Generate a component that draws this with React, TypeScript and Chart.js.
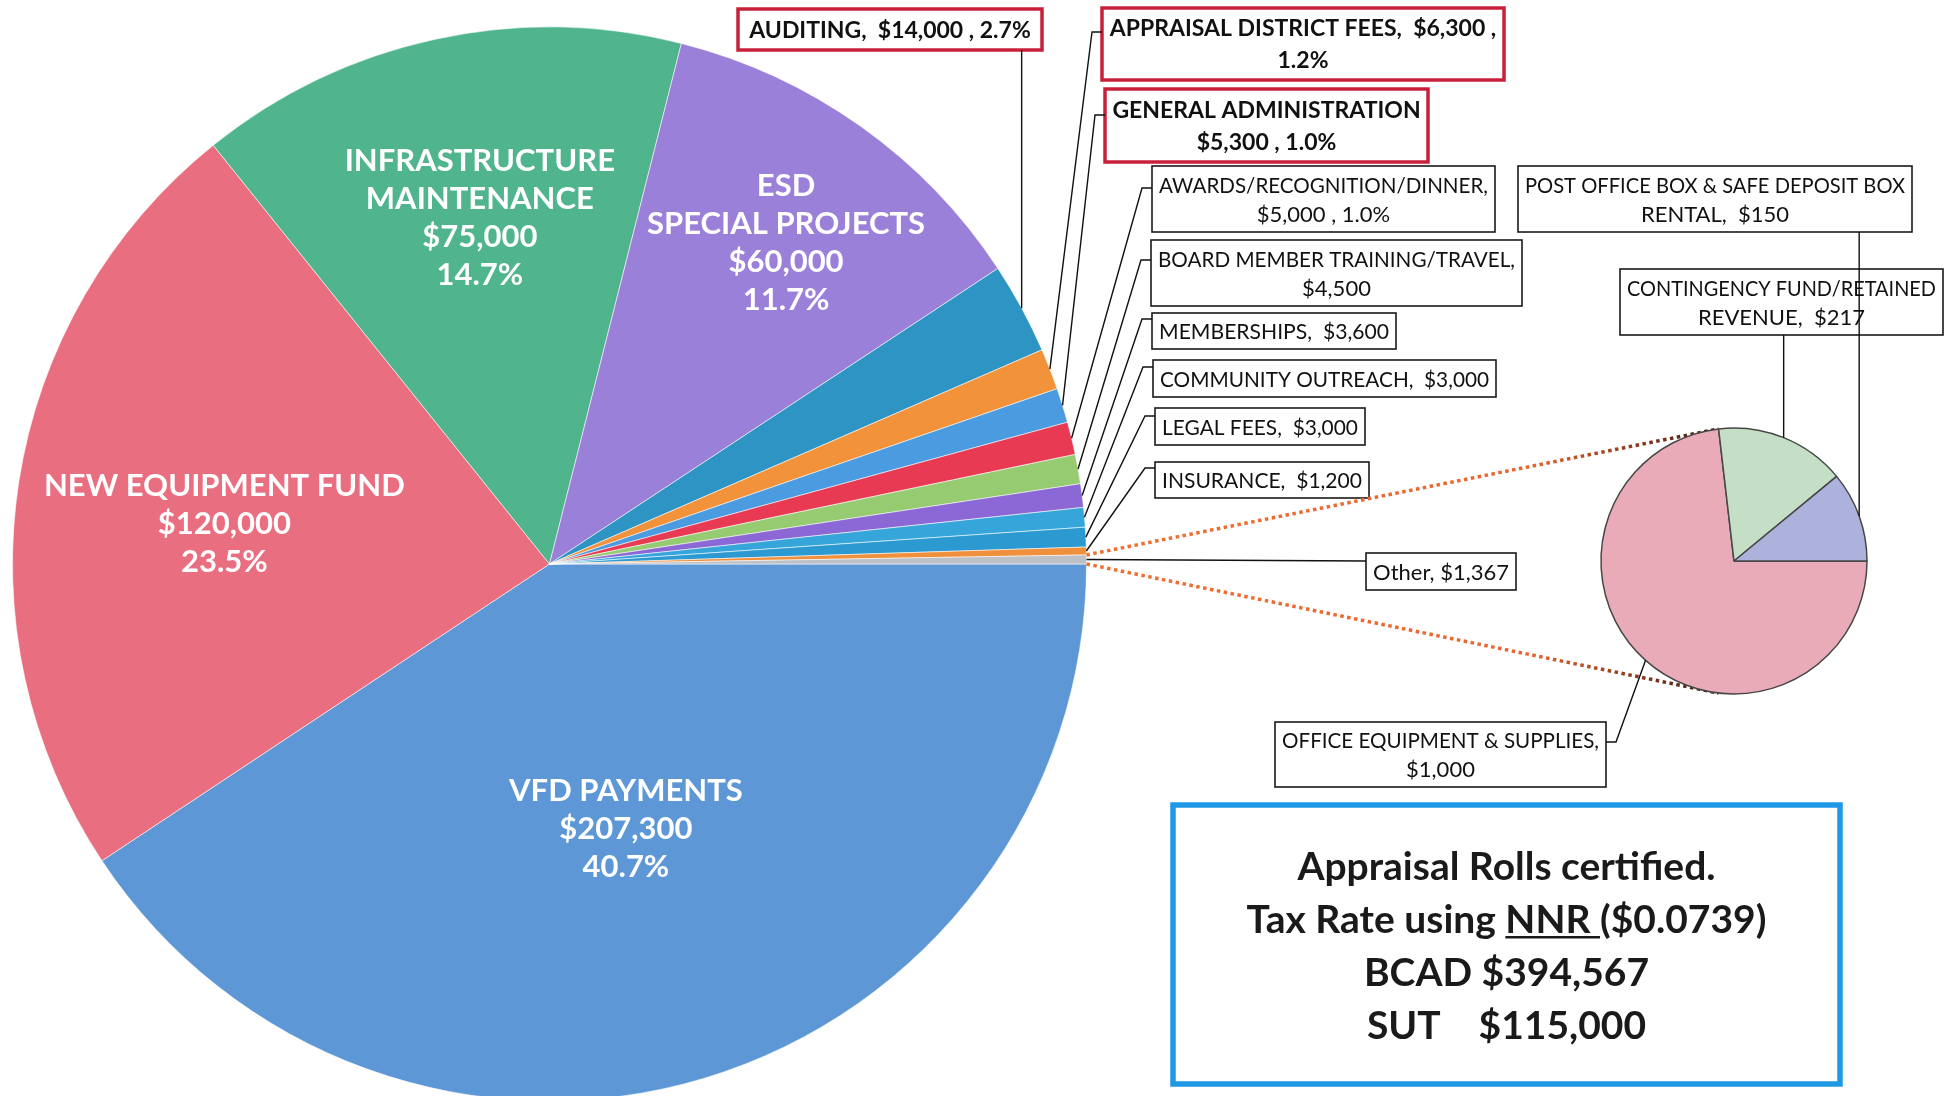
import React, { useEffect, useRef } from "react";
import { Chart, registerables } from "chart.js";

Chart.register(...registerables);

const W = 1947;
const H = 1096;
const FONT = "Lato, 'Open Sans', sans-serif";

// ---------------- data ----------------
const mainCategories = [
  "VFD PAYMENTS",
  "NEW EQUIPMENT FUND",
  "INFRASTRUCTURE MAINTENANCE",
  "ESD SPECIAL PROJECTS",
  "AUDITING",
  "APPRAISAL DISTRICT FEES",
  "GENERAL ADMINISTRATION",
  "AWARDS/RECOGNITION/DINNER",
  "BOARD MEMBER TRAINING/TRAVEL",
  "MEMBERSHIPS",
  "COMMUNITY OUTREACH",
  "LEGAL FEES",
  "INSURANCE",
  "Other",
];
const mainValues = [207300, 120000, 75000, 60000, 14000, 6300, 5300, 5000, 4500, 3600, 3000, 3000, 1200, 1367];
const mainColors = [
  "#5D97D6", "#E96E80", "#50B48D", "#9B80DA", "#2D94C4", "#F2923A", "#4A9BE0",
  "#E83A52", "#96CB72", "#8C68D6", "#36A6DA", "#2C9AD0", "#F0903C", "#BDC0C5",
];

const otherCategories = [
  "OFFICE EQUIPMENT & SUPPLIES",
  "CONTINGENCY FUND/RETAINED REVENUE",
  "POST OFFICE BOX & SAFE DEPOSIT BOX RENTAL",
];
const otherValues = [1000, 217, 150];
const otherColors = ["#EAABB9", "#C4DFC5", "#ADB2DD"];

// label texts
const insideLabelLines = [
  ["VFD PAYMENTS", "$207,300", "40.7%"],
  ["NEW EQUIPMENT FUND", "$120,000", "23.5%"],
  ["INFRASTRUCTURE", "MAINTENANCE", "$75,000", "14.7%"],
  ["ESD", "SPECIAL PROJECTS", "$60,000", "11.7%"],
];
const mainCalloutLines = [
  ["AUDITING,  $14,000 , 2.7%"],
  ["APPRAISAL DISTRICT FEES,  $6,300 ,", "1.2%"],
  ["GENERAL ADMINISTRATION", "$5,300 , 1.0%"],
  ["AWARDS/RECOGNITION/DINNER,", "$5,000 , 1.0%"],
  ["BOARD MEMBER TRAINING/TRAVEL,", "$4,500"],
  ["MEMBERSHIPS,  $3,600"],
  ["COMMUNITY OUTREACH,  $3,000"],
  ["LEGAL FEES,  $3,000"],
  ["INSURANCE,  $1,200"],
  ["Other, $1,367"],
];
const otherCalloutLines = [
  ["OFFICE EQUIPMENT & SUPPLIES,", "$1,000"],
  ["CONTINGENCY FUND/RETAINED", "REVENUE,  $217"],
  ["POST OFFICE BOX & SAFE DEPOSIT BOX", "RENTAL,  $150"],
];
const noteLine1 = "Appraisal Rolls certified.";
const noteLine2Parts = ["Tax Rate using ", "NNR ", "($0.0739)"];
const noteLine3 = "BCAD $394,567";
const noteLine4 = "SUT    $115,000";

// ---------------- layout (positions / styles only) ----------------
type Leader = { kind: "left" | "down" | "right" | "straight"; dy?: number };
type Box = { x: number; y: number; w: number; h: number; red?: boolean; leader: Leader };

const insideLayout = [
  { f: 0.514, dAng: 0.7 },
  { f: 0.61, dAng: -1.9 },
  { f: 0.658, dAng: 0.9 },
  { f: 0.742, dAng: 1.0 },
];

const mainBoxes: Box[] = [
  { x: 738, y: 9, w: 304, h: 41, red: true, leader: { kind: "down" } },
  { x: 1102, y: 8, w: 402, h: 72, red: true, leader: { kind: "left", dy: 24 } },
  { x: 1105, y: 89, w: 323, h: 73, red: true, leader: { kind: "left", dy: 26 } },
  { x: 1152, y: 166, w: 343, h: 66, leader: { kind: "left", dy: 22 } },
  { x: 1151, y: 240, w: 371, h: 66, leader: { kind: "left", dy: 20 } },
  { x: 1152, y: 313, w: 244, h: 36, leader: { kind: "left", dy: 6 } },
  { x: 1153, y: 360, w: 343, h: 37, leader: { kind: "left", dy: 7 } },
  { x: 1155, y: 408, w: 210, h: 37, leader: { kind: "left", dy: 8 } },
  { x: 1155, y: 462, w: 214, h: 36, leader: { kind: "left", dy: 6 } },
  { x: 1366, y: 553, w: 150, h: 37, leader: { kind: "straight", dy: 8 } },
];
const otherBoxes: Box[] = [
  { x: 1275, y: 722, w: 331, h: 65, leader: { kind: "right", dy: 20 } },
  { x: 1620, y: 269, w: 323, h: 66, leader: { kind: "down" } },
  { x: 1518, y: 166, w: 394, h: 66, leader: { kind: "down" } },
];
const noteBox = { x: 1173, y: 805, w: 667, h: 279 };

// ---------------- helpers ----------------
function arcGeom(arc: any) {
  const p = arc.getProps(["x", "y", "startAngle", "endAngle", "outerRadius"], true);
  return p as { x: number; y: number; startAngle: number; endAngle: number; outerRadius: number };
}
function arcPoint(arc: any, frac = 1, dAngDeg = 0) {
  const g = arcGeom(arc);
  const a = (g.startAngle + g.endAngle) / 2 + (dAngDeg * Math.PI) / 180;
  const r = g.outerRadius * frac;
  return { x: g.x + Math.cos(a) * r, y: g.y + Math.sin(a) * r };
}
function fillFitted(ctx: CanvasRenderingContext2D, t: string, x: number, y: number, maxW: number) {
  const w = ctx.measureText(t).width;
  if (w > maxW) {
    ctx.save();
    ctx.translate(x, y);
    ctx.scale(maxW / w, 1);
    ctx.fillText(t, 0, 0);
    ctx.restore();
  } else ctx.fillText(t, x, y);
}
function drawBox(ctx: CanvasRenderingContext2D, b: Box, lines: string[]) {
  ctx.save();
  ctx.fillStyle = "#ffffff";
  ctx.fillRect(b.x, b.y, b.w, b.h);
  ctx.lineWidth = b.red ? 3.5 : 1.6;
  ctx.strokeStyle = b.red ? "#C8203A" : "#1a1a1a";
  ctx.strokeRect(b.x, b.y, b.w, b.h);
  ctx.fillStyle = "#111";
  const size = b.red ? 23 : 22;
  const gap = b.red ? 32 : 29;
  ctx.font = `${b.red ? "bold " : ""}${size}px ${FONT}`;
  ctx.textAlign = "center";
  ctx.textBaseline = "middle";
  const cx = b.x + b.w / 2;
  const cy = b.y + b.h / 2 + 1;
  const n = lines.length;
  lines.forEach((t, i) => {
    fillFitted(ctx, t, cx, cy + (i - (n - 1) / 2) * gap, b.w - 14);
  });
  ctx.restore();
}
function drawLeader(ctx: CanvasRenderingContext2D, b: Box, p: { x: number; y: number }) {
  ctx.save();
  ctx.strokeStyle = "#111";
  ctx.lineWidth = 1.4;
  ctx.beginPath();
  const L = b.leader;
  if (L.kind === "down") {
    ctx.moveTo(p.x, b.y + b.h);
    ctx.lineTo(p.x, p.y);
  } else if (L.kind === "left") {
    const y = b.y + (L.dy || 0);
    ctx.moveTo(b.x, y);
    ctx.lineTo(b.x - 10, y);
    ctx.lineTo(p.x, p.y);
  } else if (L.kind === "right") {
    const y = b.y + (L.dy || 0);
    ctx.moveTo(b.x + b.w, y);
    ctx.lineTo(b.x + b.w + 10, y);
    ctx.lineTo(p.x, p.y);
  } else {
    ctx.moveTo(p.x, p.y);
    ctx.lineTo(b.x, b.y + (L.dy || 0));
  }
  ctx.stroke();
  ctx.restore();
}

// main chart overlay: inside labels, callouts, note box
const mainOverlay = {
  id: "mainOverlay",
  afterDatasetsDraw(chart: any) {
    const ctx: CanvasRenderingContext2D = chart.ctx;
    const arcs = chart.getDatasetMeta(0).data;
    // inside labels
    ctx.save();
    ctx.fillStyle = "#ffffff";
    ctx.textAlign = "center";
    ctx.textBaseline = "middle";
    ctx.font = `bold 31px ${FONT}`;
    insideLabelLines.forEach((lines, i) => {
      const lay = insideLayout[i];
      const c = arcPoint(arcs[i], lay.f, lay.dAng);
      const gap = 38;
      const n = lines.length;
      lines.forEach((t, j) => {
        ctx.fillText(t, c.x, c.y + (j - (n - 1) / 2) * gap);
      });
    });
    ctx.restore();
    // callouts
    mainBoxes.forEach((b, k) => drawBox(ctx, b, mainCalloutLines[k]));
    mainBoxes.forEach((b, k) => drawLeader(ctx, b, arcPoint(arcs[k + 4])));

    // note box
    ctx.save();
    ctx.lineWidth = 5.5;
    ctx.strokeStyle = "#1F98E6";
    ctx.strokeRect(noteBox.x, noteBox.y, noteBox.w, noteBox.h);
    ctx.fillStyle = "#1a1a1a";
    ctx.font = `bold 39px ${FONT}`;
    ctx.textBaseline = "middle";
    ctx.textAlign = "center";
    const cx = noteBox.x + noteBox.w / 2;
    ctx.fillText(noteLine1, cx, 867);
    const ws = noteLine2Parts.map((t) => ctx.measureText(t).width);
    const total = ws.reduce((a, b) => a + b, 0);
    let x = cx - total / 2;
    ctx.textAlign = "left";
    noteLine2Parts.forEach((t, i) => {
      ctx.fillText(t, x, 920);
      if (i === 1) {
        ctx.fillRect(x, 920 + 16, ws[i], 2.5);
      }
      x += ws[i];
    });
    ctx.textAlign = "center";
    ctx.fillText(noteLine3, cx, 973);
    ctx.fillText(noteLine4, cx, 1026);
    ctx.restore();
  },
};

export default function App() {
  const mainRef = useRef<HTMLCanvasElement>(null);
  const subRef = useRef<HTMLCanvasElement>(null);

  useEffect(() => {
    const main = new Chart(mainRef.current as HTMLCanvasElement, {
      type: "pie",
      data: {
        labels: mainCategories,
        datasets: [
          {
            data: mainValues,
            backgroundColor: mainColors,
            borderColor: "rgba(255,255,255,0.55)",
            borderWidth: 1,
            radius: 537,
          } as any,
        ],
      },
      options: {
        responsive: false,
        animation: false,
        events: [],
        rotation: 90,
        layout: { padding: { left: 0, right: 848, top: 32, bottom: 0 } },
        plugins: { legend: { display: false }, tooltip: { enabled: false } },
      } as any,
      plugins: [mainOverlay],
    });

    const subOverlay = {
      id: "subOverlay",
      beforeDatasetsDraw(chart: any) {
        const ctx: CanvasRenderingContext2D = chart.ctx;
        const otherArc = arcGeom(main.getDatasetMeta(0).data[mainValues.length - 1]);
        const first = arcGeom(chart.getDatasetMeta(0).data[0]);
        const aTop = first.endAngle;
        const aBot = 2 * Math.PI - first.endAngle;
        const pairs = [
          [
            { x: otherArc.x + Math.cos(otherArc.startAngle) * otherArc.outerRadius, y: otherArc.y + Math.sin(otherArc.startAngle) * otherArc.outerRadius },
            { x: first.x + Math.cos(aTop) * first.outerRadius, y: first.y + Math.sin(aTop) * first.outerRadius },
          ],
          [
            { x: otherArc.x + Math.cos(otherArc.endAngle) * otherArc.outerRadius, y: otherArc.y + Math.sin(otherArc.endAngle) * otherArc.outerRadius },
            { x: first.x + Math.cos(aBot) * first.outerRadius, y: first.y + Math.sin(aBot) * first.outerRadius },
          ],
        ];
        ctx.save();
        ctx.lineWidth = 3.5;
        ctx.setLineDash([3.5, 3.5]);
        pairs.forEach(([a, b]) => {
          const g = ctx.createLinearGradient(a.x, a.y, b.x, b.y);
          g.addColorStop(0, "#F07030");
          g.addColorStop(0.7, "#E86530");
          g.addColorStop(0.87, "#8A3A1C");
          g.addColorStop(1, "#3A1E14");
          ctx.strokeStyle = g;
          ctx.beginPath();
          ctx.moveTo(a.x, a.y);
          ctx.lineTo(b.x, b.y);
          ctx.stroke();
        });
        ctx.restore();
      },
      afterDatasetsDraw(chart: any) {
        const ctx: CanvasRenderingContext2D = chart.ctx;
        const arcs = chart.getDatasetMeta(0).data;
        otherBoxes.forEach((b, k) => drawBox(ctx, b, otherCalloutLines[k]));
        otherBoxes.forEach((b, k) => drawLeader(ctx, b, arcPoint(arcs[k])));
      },
    };

    const sub = new Chart(subRef.current as HTMLCanvasElement, {
      type: "pie",
      data: {
        labels: otherCategories,
        datasets: [
          {
            data: otherValues,
            backgroundColor: otherColors,
            borderColor: "#474747",
            borderWidth: 1.5,
            radius: 133,
          } as any,
        ],
      },
      options: {
        responsive: false,
        animation: false,
        events: [],
        rotation: 90,
        layout: { padding: { left: 1534, right: 13, top: 361, bottom: 335 } },
        plugins: { legend: { display: false }, tooltip: { enabled: false } },
      } as any,
      plugins: [subOverlay],
    });

    let alive = true;
    const fonts: any = (document as any).fonts;
    if (fonts && fonts.load) {
      Promise.all([fonts.load(`bold 30px Lato`), fonts.load(`22px Lato`)])
        .catch(() => null)
        .then(() => {
          if (alive) {
            main.draw();
            sub.draw();
          }
        });
    }
    return () => {
      alive = false;
      sub.destroy();
      main.destroy();
    };
  }, []);

  const cs: React.CSSProperties = { position: "absolute", left: 0, top: 0, width: W, height: H };
  return (
    <div style={{ position: "fixed", left: 0, top: 0, width: W, height: H, background: "#ffffff", overflow: "hidden" }}>
      <canvas ref={mainRef} width={W} height={H} style={cs} />
      <canvas ref={subRef} width={W} height={H} style={cs} />
    </div>
  );
}
